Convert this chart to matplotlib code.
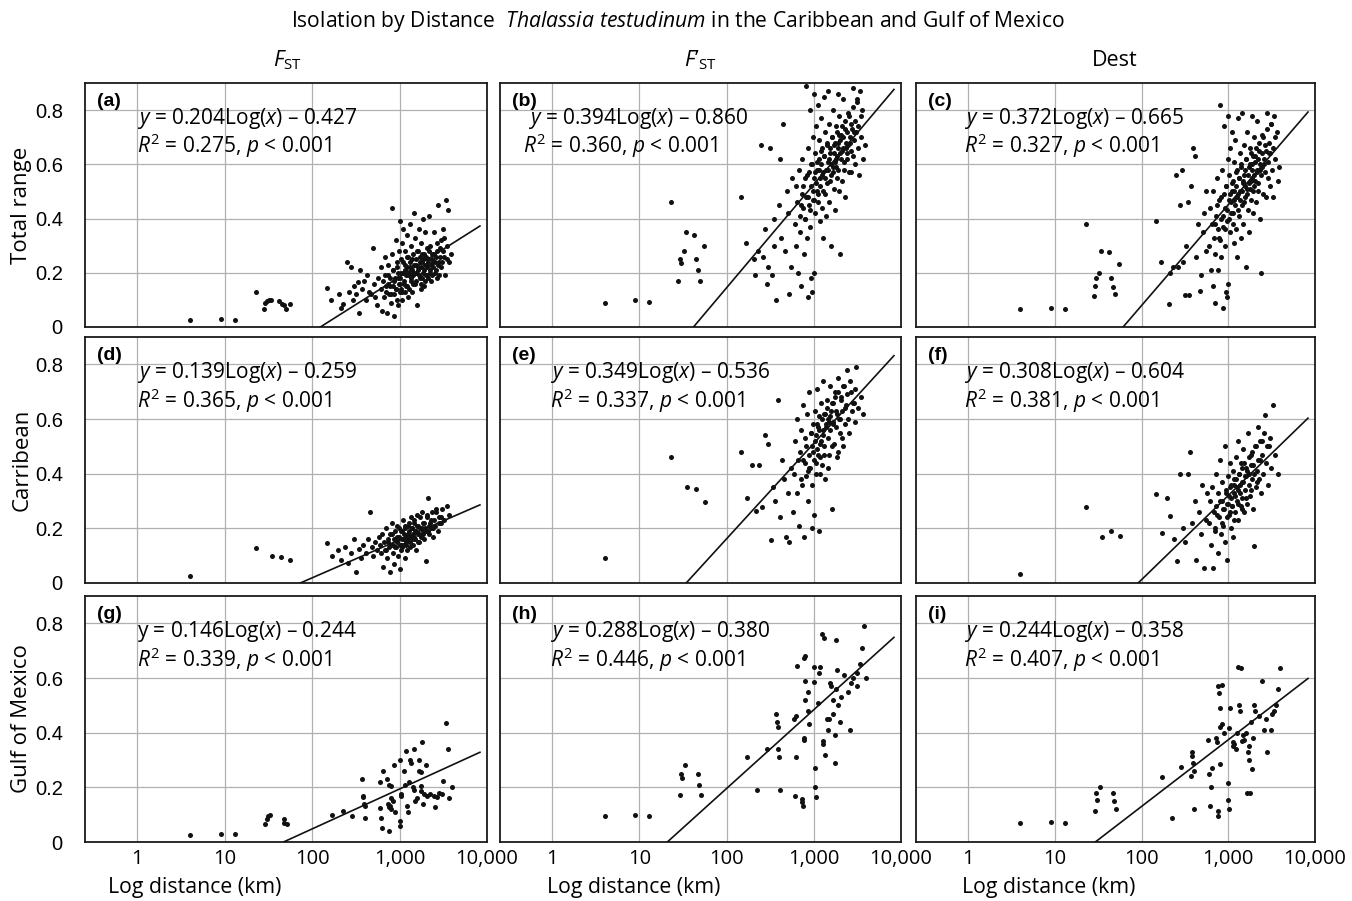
import numpy as np
import matplotlib
matplotlib.use('Agg')
import matplotlib.pyplot as plt
from matplotlib.ticker import NullLocator

plt.rcParams['font.family'] = ['Open Sans', 'DejaVu Sans']
plt.rcParams['mathtext.fontset'] = 'custom'
plt.rcParams['mathtext.rm'] = 'Open Sans'
plt.rcParams['mathtext.it'] = 'Open Sans:italic'
plt.rcParams['mathtext.bf'] = 'Open Sans:bold'

# ---- data ----
# distances (km) are shared by the three panels of a row (same population pairs)
row1_dist = [4, 9, 13,
             23, 28, 29, 30, 32, 34, 42, 45, 47, 50, 55,
             148, 166, 205, 212, 228, 250, 262, 278, 290, 300, 318, 330, 345, 352, 370, 395,
             410, 425, 445, 470, 490, 505, 520, 548, 560,
             605, 618, 630, 642, 660, 672, 688, 700, 712, 728, 740, 755, 770, 785, 798,
             810, 822, 835, 848, 860, 872, 885, 900, 912, 925, 940, 952, 965, 978, 990, 1000, 1005,
             1015, 1030, 1045, 1060, 1078, 1090, 1105, 1120, 1138, 1150, 1165, 1180, 1200, 1215,
             1230, 1248, 1262, 1280, 1300, 1318, 1335, 1350, 1370, 1390, 1410, 1430, 1450, 1470, 1490,
             1510, 1535, 1560, 1585, 1610, 1640, 1665, 1690, 1720, 1750, 1780, 1810, 1840, 1870,
             1900, 1935, 1970, 2000, 2040, 2080, 2120, 2160, 2200, 2250, 2300, 2350, 2400, 2450,
             2520, 2580, 2650, 2700, 2780, 2850, 2920, 3000, 3100, 3200, 3300, 3400, 3500, 3600, 3700, 3850]
# pairs inside the dense core of the cloud
row1_core = [705, 745, 790, 830, 868, 905, 935, 970, 1008, 1040,
             1070, 1098, 1128, 1158, 1190, 1222, 1255, 1290, 1325, 1360,
             1400, 1440, 1480, 1520, 1548, 1575, 1620, 1655, 1705, 1735,
             1765, 1795, 1825, 1855, 1885, 1915, 1950, 1985, 2020, 2060,
             2100, 2140, 2180, 2225, 2275, 2325, 2375, 2425, 2480, 2540,
             2610, 2680, 2740, 2810, 2890, 2960, 3050, 3150, 3250, 3450]

fst_total = [0.025, 0.03, 0.027,
             0.13, 0.066, 0.09, 0.095, 0.1, 0.1, 0.096, 0.085, 0.08, 0.068, 0.083,
             0.145, 0.10, 0.12, 0.07, 0.085, 0.24, 0.13, 0.22, 0.10, 0.15, 0.12, 0.165, 0.05, 0.21, 0.14, 0.17,
             0.10, 0.19, 0.13, 0.12, 0.29, 0.16, 0.11, 0.08, 0.18,
             0.14, 0.22, 0.06, 0.17, 0.11, 0.26, 0.19, 0.13, 0.05, 0.16, 0.23, 0.12, 0.15, 0.18, 0.09,
             0.44, 0.27, 0.15, 0.21, 0.04, 0.12, 0.18, 0.32, 0.14, 0.24, 0.10, 0.20, 0.08, 0.16, 0.28, 0.39, 0.13,
             0.18, 0.25, 0.14, 0.31, 0.10, 0.20, 0.36, 0.16, 0.23, 0.28, 0.13, 0.19, 0.34, 0.22,
             0.15, 0.26, 0.11, 0.20, 0.38, 0.24, 0.17, 0.30, 0.21, 0.13, 0.27, 0.19, 0.42, 0.23, 0.16,
             0.33, 0.25, 0.20, 0.08, 0.28, 0.22, 0.36, 0.18, 0.26, 0.14, 0.31, 0.24, 0.20, 0.40,
             0.27, 0.17, 0.35, 0.23, 0.29, 0.19, 0.25, 0.41, 0.21, 0.30, 0.17, 0.27, 0.24, 0.35,
             0.20, 0.26, 0.31, 0.18, 0.45, 0.24, 0.29, 0.22, 0.36, 0.26, 0.19, 0.47, 0.30, 0.43, 0.24, 0.27]
fst_total_core = [0.15, 0.19, 0.12, 0.21, 0.17, 0.14, 0.22, 0.18, 0.16, 0.20,
                  0.13, 0.24, 0.17, 0.21, 0.15, 0.26, 0.19, 0.14, 0.22, 0.18,
                  0.25, 0.16, 0.20, 0.23, 0.17, 0.28, 0.21, 0.19, 0.24, 0.16,
                  0.22, 0.27, 0.18, 0.25, 0.21, 0.15, 0.23, 0.19, 0.26, 0.22,
                  0.18, 0.24, 0.28, 0.20, 0.23, 0.25, 0.19, 0.22, 0.27, 0.24,
                  0.21, 0.28, 0.23, 0.19, 0.26, 0.32, 0.24, 0.28, 0.33, 0.25]

fpst_total = [0.09, 0.098, 0.092,
              0.46, 0.17, 0.25, 0.235, 0.28, 0.35, 0.34, 0.25, 0.21, 0.17, 0.30,
              0.48, 0.31, 0.25, 0.19, 0.28, 0.67, 0.26, 0.36, 0.16, 0.22, 0.66, 0.19, 0.30, 0.40, 0.10, 0.45,
              0.62, 0.33, 0.75, 0.28, 0.50, 0.42, 0.12, 0.22, 0.55,
              0.38, 0.52, 0.30, 0.46, 0.20, 0.58, 0.41, 0.35, 0.15, 0.49, 0.62, 0.44, 0.27, 0.55, 0.40,
              0.89, 0.48, 0.33, 0.66, 0.11, 0.45, 0.57, 0.80, 0.37, 0.52, 0.18, 0.60, 0.13, 0.47, 0.70, 0.86, 0.20,
              0.55, 0.64, 0.42, 0.74, 0.50, 0.58, 0.82, 0.46, 0.62, 0.69, 0.39, 0.55, 0.77, 0.60,
              0.44, 0.66, 0.33, 0.57, 0.85, 0.63, 0.49, 0.72, 0.58, 0.41, 0.68, 0.53, 0.87, 0.61, 0.46,
              0.75, 0.64, 0.56, 0.30, 0.70, 0.59, 0.80, 0.51, 0.67, 0.43, 0.74, 0.62, 0.55, 0.86,
              0.68, 0.50, 0.78, 0.27, 0.71, 0.54, 0.65, 0.84, 0.58, 0.73, 0.48, 0.66, 0.62, 0.79,
              0.57, 0.68, 0.75, 0.57, 0.88, 0.63, 0.72, 0.60, 0.83, 0.66, 0.56, 0.87, 0.70, 0.80, 0.62, 0.67]
fpst_total_core = [0.45, 0.52, 0.40, 0.56, 0.48, 0.43, 0.60, 0.50, 0.47, 0.57,
                   0.53, 0.61, 0.49, 0.58, 0.52, 0.65, 0.56, 0.50, 0.63, 0.55,
                   0.67, 0.58, 0.62, 0.54, 0.66, 0.60, 0.70, 0.57, 0.64, 0.61,
                   0.68, 0.59, 0.72, 0.63, 0.66, 0.58, 0.71, 0.64, 0.69, 0.62,
                   0.74, 0.66, 0.70, 0.61, 0.76, 0.68, 0.64, 0.72, 0.67, 0.78,
                   0.70, 0.65, 0.73, 0.81, 0.69, 0.76, 0.72, 0.84, 0.74, 0.78]

dest_total = [0.068, 0.07, 0.066,
              0.38, 0.113, 0.153, 0.18, 0.2, 0.28, 0.277, 0.18, 0.148, 0.12, 0.234,
              0.39, 0.24, 0.084, 0.2, 0.22, 0.56, 0.22, 0.45, 0.58, 0.24, 0.117, 0.3, 0.46, 0.117, 0.52, 0.66,
              0.63, 0.26, 0.38, 0.133, 0.19, 0.35, 0.42, 0.28, 0.5,
              0.30, 0.44, 0.21, 0.38, 0.15, 0.50, 0.33, 0.27, 0.09, 0.41, 0.55, 0.36, 0.21, 0.47, 0.32,
              0.82, 0.40, 0.26, 0.58, 0.07, 0.37, 0.49, 0.74, 0.30, 0.44, 0.13, 0.52, 0.11, 0.39, 0.62, 0.78, 0.16,
              0.47, 0.56, 0.35, 0.66, 0.42, 0.50, 0.72, 0.38, 0.54, 0.61, 0.31, 0.47, 0.69, 0.52,
              0.36, 0.58, 0.26, 0.49, 0.77, 0.55, 0.41, 0.64, 0.50, 0.33, 0.60, 0.45, 0.79, 0.53, 0.38,
              0.67, 0.56, 0.48, 0.22, 0.62, 0.51, 0.72, 0.43, 0.59, 0.35, 0.66, 0.54, 0.47, 0.78,
              0.60, 0.42, 0.70, 0.52, 0.63, 0.46, 0.57, 0.76, 0.50, 0.65, 0.40, 0.58, 0.20, 0.71,
              0.49, 0.60, 0.67, 0.48, 0.79, 0.55, 0.64, 0.52, 0.75, 0.58, 0.48, 0.78, 0.62, 0.72, 0.54, 0.59]
dest_total_core = [0.38, 0.45, 0.33, 0.48, 0.41, 0.36, 0.52, 0.43, 0.40, 0.49,
                   0.46, 0.53, 0.42, 0.50, 0.45, 0.57, 0.48, 0.43, 0.55, 0.47,
                   0.59, 0.50, 0.54, 0.46, 0.58, 0.52, 0.62, 0.49, 0.56, 0.53,
                   0.60, 0.51, 0.64, 0.55, 0.58, 0.50, 0.63, 0.56, 0.61, 0.54,
                   0.66, 0.58, 0.62, 0.53, 0.68, 0.60, 0.56, 0.64, 0.59, 0.70,
                   0.62, 0.57, 0.65, 0.73, 0.61, 0.68, 0.64, 0.75, 0.66, 0.70]

row2_dist = [4, 23, 35, 44, 56,
             148, 170, 195, 215, 235, 255, 275, 300, 320, 340, 360, 385, 410, 430, 455, 480, 500, 525, 550, 575,
             600, 614, 633, 647, 666, 681, 697, 716, 731, 752, 767, 786, 801, 821, 837, 856, 871, 891, 907, 926,
             944, 963, 979, 998, 1011, 1027, 1047, 1064, 1083, 1099, 1121, 1139, 1161, 1179, 1202, 1221, 1246,
             1267, 1291, 1311, 1336, 1359, 1386, 1409, 1436, 1459, 1491, 1519, 1551, 1579, 1612, 1644, 1681,
             1714, 1752, 1789, 1831, 1869, 1912, 1954, 2003, 2048, 2102, 2149, 2212, 2268, 2333, 2398, 2472,
             2548, 2643, 2738, 2852, 2957, 3083, 3248, 3452, 3698]
row2_core = [742, 812, 880, 935, 990, 1035, 1075, 1110, 1150, 1190,
             1235, 1280, 1325, 1372, 1422, 1475, 1535, 1595, 1660, 1730,
             1810, 1890, 1980, 2075, 2180, 2300, 2430, 2590, 2790, 3000,
             705, 850, 955, 1055, 1170, 1300, 1450, 1620, 1850, 2120]

fst_carib = [0.024, 0.128, 0.10, 0.094, 0.083,
             0.146, 0.10, 0.12, 0.085, 0.13, 0.075, 0.11, 0.16, 0.04, 0.125, 0.09, 0.14, 0.11, 0.16, 0.26,
             0.13, 0.10, 0.15, 0.12, 0.17,
             0.14, 0.11, 0.18, 0.06, 0.15, 0.12, 0.20, 0.09, 0.16, 0.13,
             0.04, 0.18, 0.14, 0.22, 0.11, 0.16, 0.07, 0.19, 0.13, 0.15,
             0.21, 0.10, 0.17, 0.14, 0.05, 0.19, 0.12, 0.16, 0.23, 0.14,
             0.18, 0.09, 0.20, 0.15, 0.17, 0.12, 0.21, 0.16, 0.19, 0.13,
             0.24, 0.17, 0.20, 0.14, 0.18, 0.22, 0.16, 0.19, 0.12, 0.25,
             0.18, 0.21, 0.15, 0.20, 0.17, 0.26, 0.19, 0.22, 0.16, 0.20,
             0.08, 0.24, 0.31, 0.18, 0.22, 0.20, 0.26, 0.17, 0.23, 0.21,
             0.27, 0.19, 0.24, 0.22, 0.27, 0.23, 0.28, 0.25]
fst_carib_core = [0.15, 0.18, 0.13, 0.17, 0.20, 0.14, 0.19, 0.16, 0.21, 0.15,
                  0.18, 0.22, 0.17, 0.20, 0.16, 0.23, 0.19, 0.21, 0.18, 0.24,
                  0.20, 0.22, 0.19, 0.25, 0.21, 0.23, 0.20, 0.26, 0.22, 0.24,
                  0.12, 0.14, 0.16, 0.13, 0.14, 0.15, 0.17, 0.15, 0.18, 0.19]

fpst_carib = [0.09, 0.46, 0.35, 0.345, 0.296,
              0.48, 0.31, 0.43, 0.265, 0.43, 0.277, 0.54, 0.51, 0.156, 0.35, 0.30, 0.67, 0.24, 0.45, 0.38,
              0.17, 0.33, 0.15, 0.42, 0.26,
              0.40, 0.52, 0.33, 0.60, 0.45, 0.21, 0.48, 0.56, 0.36, 0.65,
              0.17, 0.44, 0.53, 0.39, 0.62, 0.30, 0.47, 0.70, 0.42, 0.55,
              0.20, 0.50, 0.58, 0.45, 0.25, 0.63, 0.40, 0.54, 0.71, 0.49,
              0.57, 0.19, 0.61, 0.46, 0.52, 0.66, 0.43, 0.74, 0.56, 0.50,
              0.62, 0.38, 0.58, 0.67, 0.53, 0.60, 0.47, 0.72, 0.56, 0.63,
              0.27, 0.59, 0.66, 0.51, 0.70, 0.57, 0.62, 0.48, 0.75, 0.60,
              0.55, 0.68, 0.63, 0.50, 0.72, 0.58, 0.65, 0.78, 0.60, 0.55,
              0.70, 0.63, 0.66, 0.59, 0.79, 0.64, 0.68, 0.62]
fpst_carib_core = [0.45, 0.50, 0.42, 0.55, 0.48, 0.52, 0.58, 0.47, 0.56, 0.51,
                   0.60, 0.54, 0.62, 0.57, 0.64, 0.59, 0.61, 0.66, 0.58, 0.68,
                   0.63, 0.70, 0.60, 0.67, 0.72, 0.64, 0.69, 0.74, 0.66, 0.71,
                   0.38, 0.41, 0.36, 0.44, 0.40, 0.47, 0.42, 0.50, 0.46, 0.53]

dest_carib = [0.034, 0.277, 0.167, 0.19, 0.173,
              0.325, 0.183, 0.31, 0.246, 0.16, 0.08, 0.40, 0.20, 0.15, 0.40, 0.478, 0.22, 0.30, 0.085, 0.26,
              0.18, 0.36, 0.055, 0.23, 0.33,
              0.22, 0.30, 0.14, 0.35, 0.055, 0.26, 0.19, 0.40, 0.28, 0.11,
              0.33, 0.24, 0.45, 0.18, 0.30, 0.37, 0.21, 0.27, 0.50, 0.15,
              0.34, 0.29, 0.085, 0.39, 0.25, 0.32, 0.44, 0.20, 0.36, 0.28,
              0.41, 0.17, 0.33, 0.38, 0.26, 0.46, 0.30, 0.35, 0.52, 0.23,
              0.40, 0.33, 0.28, 0.44, 0.37, 0.31, 0.49, 0.26, 0.39, 0.34,
              0.42, 0.29, 0.55, 0.36, 0.40, 0.32, 0.47, 0.38, 0.27, 0.43,
              0.134, 0.50, 0.35, 0.41, 0.57, 0.38, 0.45, 0.33, 0.52, 0.40,
              0.616, 0.44, 0.36, 0.50, 0.42, 0.65, 0.47, 0.40]
dest_carib_core = [0.25, 0.30, 0.27, 0.33, 0.29, 0.35, 0.31, 0.28, 0.36, 0.32,
                   0.38, 0.34, 0.40, 0.36, 0.42, 0.37, 0.44, 0.39, 0.41, 0.46,
                   0.43, 0.48, 0.40, 0.50, 0.45, 0.52, 0.47, 0.55, 0.50, 0.53,
                   0.20, 0.22, 0.24, 0.26, 0.23, 0.29, 0.27, 0.31, 0.34, 0.37]

row3_dist = [4, 9, 13, 29, 30, 31, 33, 47, 48, 51,
             170, 224, 288, 372, 380, 385, 390, 398, 407, 589, 603, 617, 631, 646, 724, 741, 759, 762, 766,
             776, 794, 798, 802, 851, 856, 891, 1000, 1004, 1023, 1028, 1047, 1122, 1148, 1175, 1230, 1259,
             1288, 1318, 1349, 1413, 1445, 1479, 1514, 1585, 1660, 1668, 1738, 1745, 1778, 1820, 1862, 1905,
             1995, 2042, 2239, 2455, 2570, 2692, 2818, 3090, 3162, 3388, 3548, 3715, 3981]

fst_gulf = [0.026, 0.03, 0.028, 0.065, 0.084, 0.096, 0.099, 0.084, 0.07, 0.065,
            0.10, 0.113, 0.096, 0.23, 0.17, 0.166, 0.139, 0.088, 0.13, 0.22, 0.123, 0.088, 0.051, 0.26, 0.23,
            0.14, 0.127, 0.04, 0.21, 0.13, 0.16, 0.12, 0.205, 0.15, 0.28, 0.11, 0.30, 0.078, 0.06, 0.176,
            0.167, 0.26, 0.21, 0.334, 0.133, 0.108, 0.218, 0.30, 0.29, 0.2, 0.19, 0.34, 0.15, 0.16, 0.3,
            0.26, 0.255, 0.206, 0.185, 0.365, 0.14, 0.175, 0.28, 0.17, 0.176, 0.17, 0.127, 0.165, 0.18,
            0.176, 0.224, 0.435, 0.34, 0.16, 0.2]

fpst_gulf = [0.094, 0.099, 0.095, 0.173, 0.25, 0.234, 0.28, 0.25, 0.21, 0.173,
             0.31, 0.19, 0.34, 0.47, 0.44, 0.42, 0.34, 0.31, 0.19, 0.45, 0.17, 0.31, 0.46, 0.645, 0.157,
             0.148, 0.133, 0.38, 0.375, 0.675, 0.59, 0.52, 0.68, 0.55, 0.48, 0.43, 0.64, 0.585, 0.27, 0.2,
             0.163, 0.51, 0.62, 0.64, 0.76, 0.37, 0.36, 0.745, 0.32, 0.45, 0.41, 0.45, 0.58, 0.57, 0.52,
             0.47, 0.39, 0.29, 0.56, 0.74, 0.63, 0.5, 0.44, 0.53, 0.61, 0.55, 0.41, 0.58, 0.6,
             0.57, 0.62, 0.65, 0.71, 0.79, 0.6]

dest_gulf = [0.068, 0.074, 0.068, 0.115, 0.18, 0.154, 0.2, 0.18, 0.149, 0.12,
             0.237, 0.087, 0.276, 0.24, 0.33, 0.316, 0.29, 0.26, 0.12, 0.374, 0.25, 0.13, 0.2, 0.27, 0.38,
             0.365, 0.115, 0.096, 0.57, 0.545, 0.42, 0.49, 0.285, 0.575, 0.43, 0.4, 0.215, 0.155, 0.12, 0.416,
             0.49, 0.35, 0.365, 0.36, 0.34, 0.4, 0.64, 0.5, 0.48, 0.635, 0.37, 0.39, 0.374, 0.4, 0.18,
             0.33, 0.35, 0.3, 0.18, 0.44, 0.267, 0.38, 0.5, 0.48, 0.46, 0.59, 0.41, 0.45, 0.33,
             0.41, 0.47, 0.48, 0.5, 0.56, 0.635]

row_dists = [row1_dist + row1_core, row2_dist + row2_core, row3_dist]
panel_vals = [[fst_total + fst_total_core, fpst_total + fpst_total_core, dest_total + dest_total_core],
              [fst_carib + fst_carib_core, fpst_carib + fpst_carib_core, dest_carib + dest_carib_core],
              [fst_gulf, fpst_gulf, dest_gulf]]

# regression lines as drawn: y = slope*log10(x) + intercept
slopes = [0.204, 0.381, 0.372, 0.139, 0.349, 0.308, 0.146, 0.288, 0.244]
intercepts = [-0.427, -0.617, -0.665, -0.259, -0.536, -0.604, -0.244, -0.380, -0.358]
line_end_km = 8300

panel_tags = ['(a)', '(b)', '(c)', '(d)', '(e)', '(f)', '(g)', '(h)', '(i)']
eq_labels = ['$y$ = 0.204Log($x$) – 0.427', '$y$ = 0.394Log($x$) – 0.860', '$y$ = 0.372Log($x$) – 0.665',
             '$y$ = 0.139Log($x$) – 0.259', '$y$ = 0.349Log($x$) – 0.536', '$y$ = 0.308Log($x$) – 0.604',
             'y = 0.146Log($x$) – 0.244', '$y$ = 0.288Log($x$) – 0.380', '$y$ = 0.244Log($x$) – 0.358']
r2_labels = ['0.275', '0.360', '0.327', '0.365', '0.337', '0.381', '0.339', '0.446', '0.407']

col_titles = ['$F$${}_\\mathrm{ST}$', '$F$’${}_\\mathrm{ST}$', 'Dest']
row_titles = ['Total range', 'Carribean', 'Gulf of Mexico']
xtick_vals = [1, 10, 100, 1000, 10000]
xtick_text = ['1', '10', '100', '1,000', '10,000']
ytick_vals = [0, 0.2, 0.4, 0.6, 0.8]
ytick_text = ['0', '0.2', '0.4', '0.6', '0.8']

# ---- layout (pixels in the 1352x901 figure) ----
W, H = 1352.0, 901.0
col_px = [(85, 487), (500, 901), (916, 1315)]
row_px = [(83, 327), (337, 583), (596, 842)]
eq_x = [0.13, 0.07, 0.12, 0.13, 0.125, 0.12, 0.13, 0.125, 0.12]
r2_x = [0.13, 0.057, 0.12, 0.13, 0.125, 0.12, 0.13, 0.125, 0.12]

fig = plt.figure(figsize=(W / 100, H / 100), dpi=100)

for r in range(3):
    for c in range(3):
        k = r * 3 + c
        x0, x1 = col_px[c]
        y0, y1 = row_px[r]
        ax = fig.add_axes([x0 / W, 1 - y1 / H, (x1 - x0) / W, (y1 - y0) / H])
        ax.set_xscale('log')
        ax.set_xlim(10 ** -0.6, 10 ** 4)
        ax.set_ylim(0, 0.9)
        ax.set_xticks(xtick_vals)
        ax.xaxis.set_minor_locator(NullLocator())
        ax.set_yticks(ytick_vals)
        ax.grid(True, color='#b0b0b0', lw=0.9)
        ax.set_axisbelow(True)
        ax.tick_params(length=0)
        for s in ax.spines.values():
            s.set_linewidth(1.3)
            s.set_color('#1a1a1a')

        if r == 2:
            ax.set_xticklabels(xtick_text, fontsize=14.5)
            ax.tick_params(axis='x', pad=5)
        else:
            ax.set_xticklabels([])
        if c == 0:
            ax.set_yticklabels(ytick_text, fontsize=14.5, family='Liberation Sans')
            ax.tick_params(axis='y', pad=16)
        else:
            ax.set_yticklabels([])

        ax.scatter(row_dists[r], panel_vals[r][c], s=13, c='#111111', lw=0, zorder=3)

        m, b = slopes[k], intercepts[k]
        xs = np.array([10 ** (-b / m), line_end_km])
        ax.plot(xs, m * np.log10(xs) + b, color='#111111', lw=1.2, zorder=4)

        ax.text(0.03, 0.925, panel_tags[k], transform=ax.transAxes, fontsize=14,
                fontweight='bold', family='Liberation Sans', va='center', ha='left')
        ax.text(eq_x[k], 0.855, eq_labels[k], transform=ax.transAxes, fontsize=15,
                va='center', ha='left', zorder=5)
        ax.text(r2_x[k], 0.742, '$R^2$ = ' + r2_labels[k] + ', $p$ < 0.001', transform=ax.transAxes,
                fontsize=15, va='center', ha='left', zorder=5)

fig.text(678 / W, 1 - 22 / H,
         'Isolation by Distance  $\\mathit{Thalassia\\ testudinum}$ in the Caribbean and Gulf of Mexico',
         ha='center', va='center', fontsize=15.2)
col_centers = [287, 700, 1115]
for c in range(3):
    fig.text(col_centers[c] / W, 1 - 60 / H, col_titles[c], ha='center', va='center', fontsize=15.5)
row_centers = [205, 460, 719]
for r in range(3):
    fig.text(22 / W, 1 - row_centers[r] / H, row_titles[r], rotation=90, ha='center', va='center',
             fontsize=16)
xlabel_left = [108, 547, 962]
for c in range(3):
    fig.text(xlabel_left[c] / W, 1 - 888 / H, 'Log distance (km)', ha='left', va='center', fontsize=15.3)

fig.savefig('out.png', dpi=100)
